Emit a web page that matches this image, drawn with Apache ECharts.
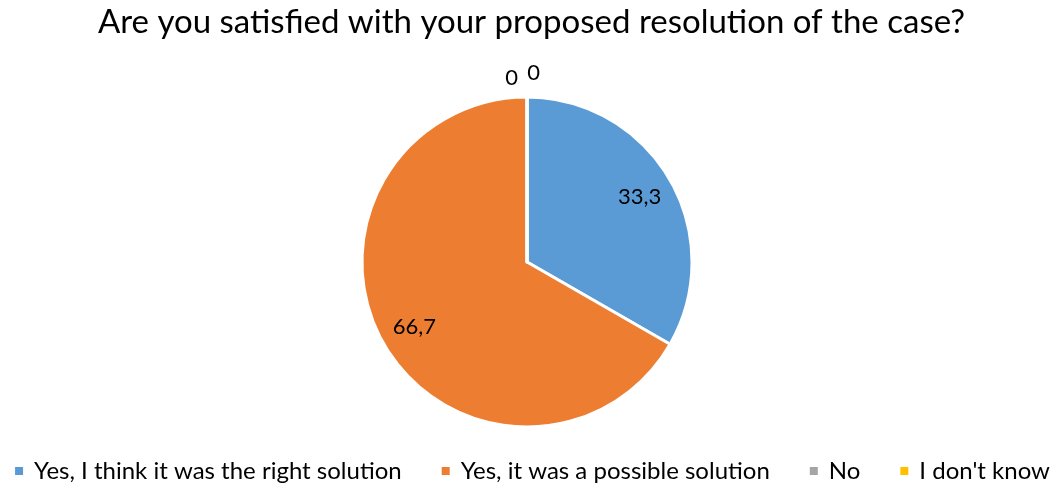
<!DOCTYPE html>
<html>
<head>
<meta charset="utf-8">
<script src="https://cdn.jsdelivr.net/npm/echarts@6/dist/echarts.min.js"></script>
<style>
html, body { margin: 0; padding: 0; background: #fff; }
#chart { width: 1063px; height: 489px; }
</style>
</head>
<body>
<div id="chart"></div>
<script>
const titleText = 'Are you satisfied with your proposed resolution of the case?'
const categories = ['Yes, I think it was the right solution', 'Yes, it was a possible solution', 'No', "I don't know"]
const values = [33.3, 66.7, 0, 0]
const colors = ['#5B9BD5', '#ED7D31', '#A5A5A5', '#FFC000']

const font = 'Lato, "Open Sans", sans-serif'
const chart = echarts.init(document.getElementById('chart'))

// slices
const pieData = categories.map((name, i) => ({ name: name, value: values[i] }))

// labels sit on a transparent ring so they land further out than the slice middle
const labelData = categories.map((name, i) => {
  const item = { name: name, value: values[i] }
  if (values[i] === 0) {
    item.label = { position: 'outside' }
    item.labelLine = { show: false, length: 21, length2: 0 }
  }
  return item
})

chart.setOption({
  color: colors,
  animation: false,
  title: {
    text: titleText,
    left: 'center',
    top: 1,
    textStyle: { fontFamily: font, fontSize: 33, fontWeight: 'normal', color: '#000' }
  },
  legend: {
    data: categories,
    bottom: 6,
    left: 'center',
    padding: 0,
    icon: 'rect',
    itemWidth: 10,
    itemHeight: 10,
    itemGap: 38,
    textStyle: { fontFamily: font, fontSize: 24, color: '#000', padding: [0, 0, 0, 5] }
  },
  series: [{
    type: 'pie',
    center: [527, 262],
    radius: [0, 165],
    startAngle: 90,
    clockwise: true,
    itemStyle: { borderColor: '#fff', borderWidth: 3 },
    label: { show: false },
    labelLine: { show: false },
    data: pieData
  }, {
    type: 'pie',
    silent: true,
    center: [527, 262],
    radius: [89, 165],
    startAngle: 90,
    clockwise: true,
    avoidLabelOverlap: false,
    itemStyle: { color: 'rgba(0,0,0,0)', borderWidth: 0 },
    emphasis: { disabled: true },
    label: {
      show: true,
      position: 'inside',
      fontFamily: font,
      fontSize: 22,
      color: '#000',
      formatter: p => String(p.value).replace('.', ',')
    },
    labelLine: { show: false },
    labelLayout: p => {
      if (p.dataIndex === 2) return { dx: -4, dy: 2 }
      if (p.dataIndex === 3) return { dx: 18, dy: -3 }
      return {}
    },
    data: labelData
  }]
})
</script>
</body>
</html>
